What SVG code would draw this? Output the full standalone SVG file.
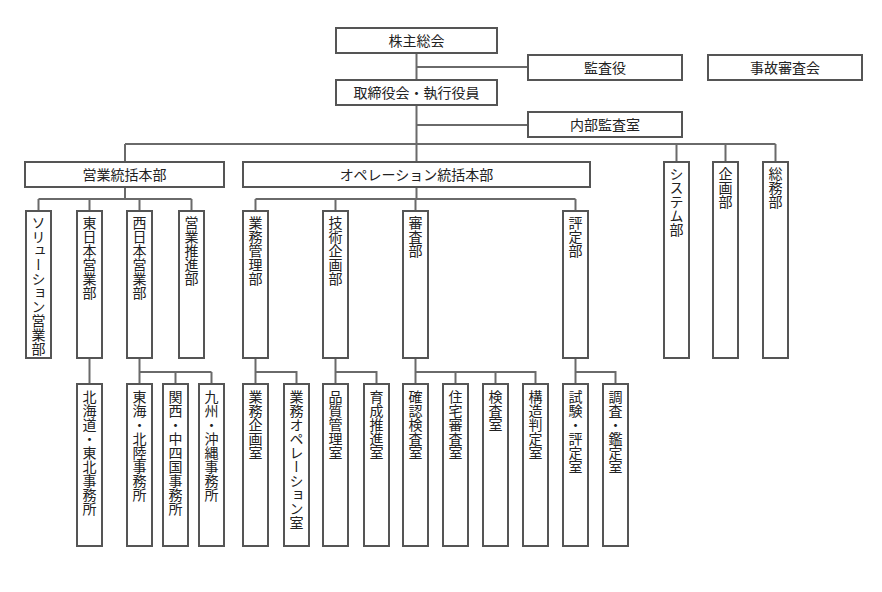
<svg xmlns="http://www.w3.org/2000/svg" width="882" height="592" viewBox="0 0 882 592">
<style>
rect{fill:#fff;stroke:#555;stroke-width:2}
.c path{fill:none;stroke:#6a6a6a;stroke-width:2}
text{font-family:"Noto Sans CJK JP","Noto Sans CJK SC",sans-serif;font-size:14px;fill:#222}
.h{text-anchor:middle}
.v{writing-mode:vertical-rl;text-anchor:start}
</style>
<rect x="0" y="0" width="882" height="592" style="stroke:none"/>
<g class="c" id="connectors">
<path d="M416.5 53V162M416.5 67H528M416.5 125H528"/>
<path d="M125 144H775.5M125 144V162M676.5 144V162M725.5 144V162M775.5 144V162"/>
<path d="M125 187V199M38.5 199H191.5M38.5 199V211M89.5 199V211M139.5 199V211M191.5 199V211"/>
<path d="M416.5 187V199M255.5 199H575.5M255.5 199V211M335.5 199V211M415.5 199V211M575.5 199V211"/>
<path d="M89.5 358V384"/>
<path d="M139.5 358V384M139.5 372H211.5M175.5 372V384M211.5 372V384"/>
<path d="M255.5 358V384M255.5 372H296.5V384"/>
<path d="M335.5 358V384M335.5 372H376.5V384"/>
<path d="M415.5 358V384M415.5 372H535.5V384M455.5 372V384M495.5 372V384"/>
<path d="M575.5 358V384M575.5 372H615.5V384"/>
</g>
<g id="n1"><rect x="336" y="28" width="161" height="25"/><text class="h" x="416.5" y="45.5">株主総会</text></g>
<g id="n2"><rect x="528" y="55" width="154" height="25"/><text class="h" x="605" y="72.5">監査役</text></g>
<g id="n3"><rect x="708" y="55" width="154" height="25"/><text class="h" x="785" y="72.5">事故審査会</text></g>
<g id="n4"><rect x="336" y="80" width="161" height="25"/><text class="h" x="416.5" y="97.5">取締役会・執行役員</text></g>
<g id="n5"><rect x="528" y="112" width="154" height="25"/><text class="h" x="605" y="129.5">内部監査室</text></g>
<g id="n6"><rect x="25" y="162" width="199" height="25"/><text class="h" x="124.5" y="179.5">営業統括本部</text></g>
<g id="n7"><rect x="243" y="162" width="347" height="25"/><text class="h" x="416.5" y="179.5">オペレーション統括本部</text></g>
<g id="n8"><rect x="664" y="162" width="25" height="196"/><text class="v" x="676.5" y="167">システム部</text></g>
<g id="n9"><rect x="713" y="162" width="25" height="196"/><text class="v" x="725.5" y="167">企画部</text></g>
<g id="n10"><rect x="763" y="162" width="25" height="196"/><text class="v" x="775.5" y="167">総務部</text></g>
<g id="n11"><rect x="26" y="211" width="25" height="147"/><text class="v" x="38.5" y="216">ソリューション営業部</text></g>
<g id="n12"><rect x="77" y="211" width="25" height="147"/><text class="v" x="89.5" y="216">東日本営業部</text></g>
<g id="n13"><rect x="127" y="211" width="25" height="147"/><text class="v" x="139.5" y="216">西日本営業部</text></g>
<g id="n14"><rect x="179" y="211" width="25" height="147"/><text class="v" x="191.5" y="216">営業推進部</text></g>
<g id="n15"><rect x="243" y="211" width="25" height="147"/><text class="v" x="255.5" y="216">業務管理部</text></g>
<g id="n16"><rect x="323" y="211" width="25" height="147"/><text class="v" x="335.5" y="216">技術企画部</text></g>
<g id="n17"><rect x="403" y="211" width="25" height="147"/><text class="v" x="415.5" y="216">審査部</text></g>
<g id="n18"><rect x="563" y="211" width="25" height="147"/><text class="v" x="575.5" y="216">評定部</text></g>
<g id="n19"><rect x="77" y="384" width="25" height="162"/><text class="v" x="89.5" y="390">北海道・東北事務所</text></g>
<g id="n20"><rect x="127" y="384" width="25" height="162"/><text class="v" x="139.5" y="390">東海・北陸事務所</text></g>
<g id="n21"><rect x="163" y="384" width="25" height="162"/><text class="v" x="175.5" y="390">関西・中四国事務所</text></g>
<g id="n22"><rect x="199" y="384" width="25" height="162"/><text class="v" x="211.5" y="390">九州・沖縄事務所</text></g>
<g id="n23"><rect x="243" y="384" width="25" height="162"/><text class="v" x="255.5" y="390">業務企画室</text></g>
<g id="n24"><rect x="284" y="384" width="25" height="162"/><text class="v" x="296.5" y="390">業務オペレーション室</text></g>
<g id="n25"><rect x="323" y="384" width="25" height="162"/><text class="v" x="335.5" y="390">品質管理室</text></g>
<g id="n26"><rect x="364" y="384" width="25" height="162"/><text class="v" x="376.5" y="390">育成推進室</text></g>
<g id="n27"><rect x="403" y="384" width="25" height="162"/><text class="v" x="415.5" y="390">確認検査室</text></g>
<g id="n28"><rect x="443" y="384" width="25" height="162"/><text class="v" x="455.5" y="390">住宅審査室</text></g>
<g id="n29"><rect x="483" y="384" width="25" height="162"/><text class="v" x="495.5" y="390">検査室</text></g>
<g id="n30"><rect x="523" y="384" width="25" height="162"/><text class="v" x="535.5" y="390">構造判定室</text></g>
<g id="n31"><rect x="563" y="384" width="25" height="162"/><text class="v" x="575.5" y="390">試験・評定室</text></g>
<g id="n32"><rect x="603" y="384" width="25" height="162"/><text class="v" x="615.5" y="390">調査・鑑定室</text></g>
</svg>
